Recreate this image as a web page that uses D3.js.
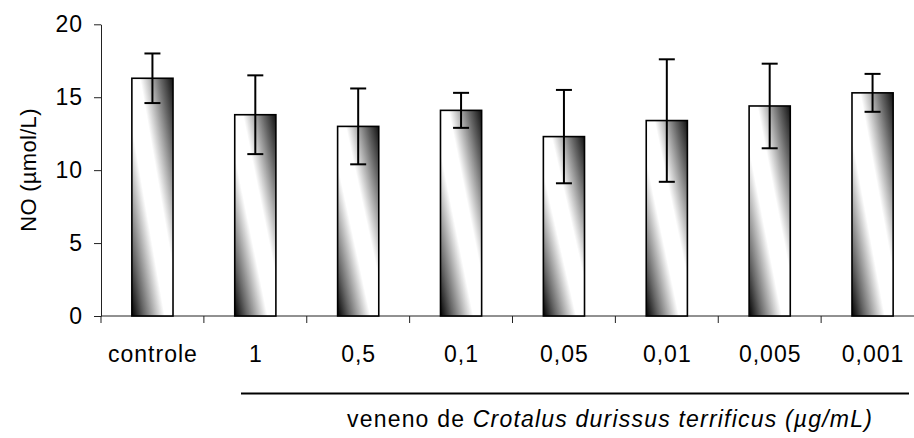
<!DOCTYPE html>
<html>
<head>
<meta charset="utf-8">
<script src="https://cdn.jsdelivr.net/npm/d3@7"></script>
<style>
  body { margin: 0; background: #fff; }
  svg text { font-family: "Liberation Sans", Arial, sans-serif; fill: #000; }
</style>
</head>
<body>
<script>
var categories = ["controle", "1", "0,5", "0,1", "0,05", "0,01", "0,005", "0,001"];
var means = [16.3, 13.8, 13.0, 14.1, 12.3, 13.4, 14.4, 15.3];
var errors = [1.7, 2.7, 2.6, 1.2, 3.2, 4.2, 2.9, 1.3];
var yTicks = [0, 5, 10, 15, 20];

var width = 914, height = 438;

var svg = d3.select("body").append("svg")
    .attr("width", width)
    .attr("height", height);

// diagonal shading like the old excel fill
var grad = svg.append("defs").append("linearGradient")
    .attr("id", "shade")
    .attr("x1", 0).attr("y1", 1)
    .attr("x2", 1).attr("y2", 0);
grad.append("stop").attr("offset", "0").attr("stop-color", "#000");
grad.append("stop").attr("offset", "0.15").attr("stop-color", "#666");
grad.append("stop").attr("offset", "0.4").attr("stop-color", "#fff");
grad.append("stop").attr("offset", "0.6").attr("stop-color", "#fff");
grad.append("stop").attr("offset", "0.85").attr("stop-color", "#666");
grad.append("stop").attr("offset", "1").attr("stop-color", "#111");

var x = d3.scaleBand()
    .domain(categories)
    .range([101, 924])
    .paddingInner(0.6)
    .paddingOuter(0.3);

var y = d3.scaleLinear()
    .domain([0, 20])
    .range([316, 24.3]);

// y axis
var yAxis = svg.append("g")
    .attr("transform", "translate(101,0)")
    .call(d3.axisLeft(y).tickValues(yTicks).tickSize(7).tickSizeOuter(0).tickPadding(11));
yAxis.select(".domain").attr("stroke", "#222");
yAxis.selectAll(".tick line").attr("stroke", "#222");
yAxis.selectAll("text")
    .style("font-size", "23px")
    .style("letter-spacing", "1px")
    .attr("fill", "#000");

// x axis line + ticks between categories
svg.append("line")
    .attr("x1", 101).attr("x2", 924)
    .attr("y1", y(0)).attr("y2", y(0))
    .attr("stroke", "#222");
svg.selectAll(".xtick")
    .data(d3.range(categories.length + 1))
    .enter()
    .append("line")
    .attr("class", "xtick")
    .attr("x1", function(i){ return x.range()[0] + i * x.step(); })
    .attr("x2", function(i){ return x.range()[0] + i * x.step(); })
    .attr("y1", y(0)).attr("y2", y(0) + 7)
    .attr("stroke", "#222");

// bars
svg.selectAll(".bar")
    .data(means)
    .enter()
    .append("rect")
    .attr("class", "bar")
    .attr("x", function(d, i){ return x(categories[i]); })
    .attr("y", function(d){ return y(d); })
    .attr("width", x.bandwidth())
    .attr("height", function(d){ return y(0) - y(d); })
    .attr("fill", "url(#shade)")
    .attr("stroke", "#000")
    .attr("stroke-width", 1.6);

// error bars
var eb = svg.selectAll(".err")
    .data(means)
    .enter()
    .append("g")
    .attr("class", "err")
    .attr("stroke", "#000")
    .attr("stroke-width", 2);
eb.append("line")
    .attr("x1", function(d, i){ return x(categories[i]) + x.bandwidth() / 2; })
    .attr("x2", function(d, i){ return x(categories[i]) + x.bandwidth() / 2; })
    .attr("y1", function(d, i){ return y(d + errors[i]); })
    .attr("y2", function(d, i){ return y(d - errors[i]); });
eb.append("line")
    .attr("x1", function(d, i){ return x(categories[i]) + x.bandwidth() / 2 - 8; })
    .attr("x2", function(d, i){ return x(categories[i]) + x.bandwidth() / 2 + 8; })
    .attr("y1", function(d, i){ return y(d + errors[i]); })
    .attr("y2", function(d, i){ return y(d + errors[i]); });
eb.append("line")
    .attr("x1", function(d, i){ return x(categories[i]) + x.bandwidth() / 2 - 8; })
    .attr("x2", function(d, i){ return x(categories[i]) + x.bandwidth() / 2 + 8; })
    .attr("y1", function(d, i){ return y(d - errors[i]); })
    .attr("y2", function(d, i){ return y(d - errors[i]); });

// category labels
svg.selectAll(".xlab")
    .data(categories)
    .enter()
    .append("text")
    .attr("class", "xlab")
    .attr("x", function(d){ return x(d) + x.bandwidth() / 2 + 0.5; })
    .attr("y", 362)
    .attr("text-anchor", "middle")
    .style("font-size", "23px")
    .style("letter-spacing", "1px")
    .text(function(d){ return d; });

// y title
svg.append("text")
    .attr("transform", "translate(36,170) rotate(-90)")
    .attr("text-anchor", "middle")
    .style("font-size", "22px")
    .style("letter-spacing", "0.3px")
    .text("NO (µmol/L)");

// bracket line under the venom doses
svg.append("line")
    .attr("x1", 241).attr("x2", 909)
    .attr("y1", 393.5).attr("y2", 393.5)
    .attr("stroke", "#000")
    .attr("stroke-width", 2);

var t = svg.append("text")
    .attr("x", 610)
    .attr("y", 427)
    .attr("text-anchor", "middle")
    .style("font-size", "23px")
    .style("letter-spacing", "1.2px");
t.append("tspan").text("veneno de ");
t.append("tspan").style("font-style", "italic").text("Crotalus durissus terrificus (µg/mL)");
</script>
</body>
</html>
